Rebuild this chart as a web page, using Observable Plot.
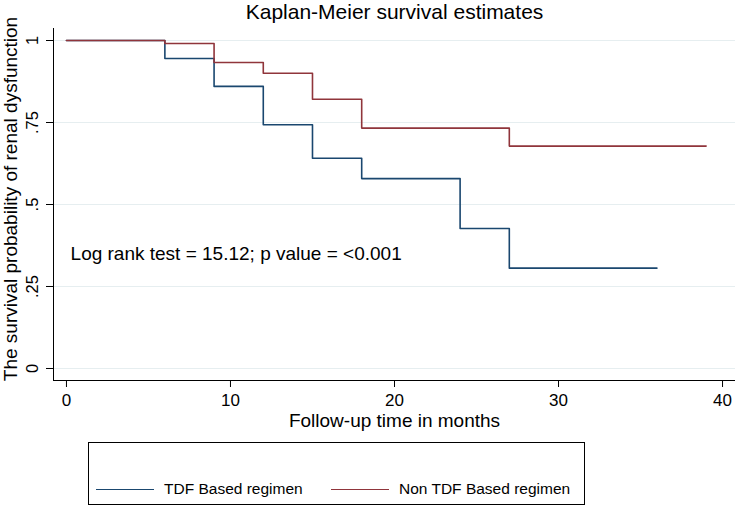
<!DOCTYPE html>
<html>
<head>
<meta charset="utf-8">
<script src="https://cdn.jsdelivr.net/npm/d3@7"></script>
<script src="https://cdn.jsdelivr.net/npm/@observablehq/plot@0.6"></script>
<style>
  html, body { margin: 0; padding: 0; background: #fff; }
  #wrap { position: relative; width: 735px; height: 505px; font-family: "Liberation Sans", Arial, sans-serif; }
  #legend { position: absolute; left: 88px; top: 442px; width: 495px; height: 61px; border: 1px solid #000; box-sizing: content-box; }
  .sw { position: absolute; height: 0; border-top: 1.6px solid; top: 46px; width: 58px; }
  .lt { position: absolute; top: 37px; font-size: 15.5px; line-height: 18px; color: #000; white-space: nowrap; }
</style>
</head>
<body>
<div id="wrap"></div>
<script>
// Data
const tdfTimes = [0, 6, 9, 12, 15, 18, 24, 27, 36];
const tdfSurv  = [1, 0.945, 0.860, 0.743, 0.641, 0.579, 0.427, 0.306, 0.306];
const nonTimes = [0, 6, 9, 12, 15, 18, 27, 39];
const nonSurv  = [1, 0.991, 0.933, 0.900, 0.821, 0.733, 0.678, 0.678];
const groups = ["TDF Based regimen", "Non TDF Based regimen"];
const colors = ["#1a476f", "#90353b"];
const xTicks = [0, 10, 20, 30, 40];
const yTicks = [0, 0.25, 0.5, 0.75, 1];
const yTickLabels = ["0", ".25", ".5", ".75", "1"];
const titleText = "Kaplan-Meier survival estimates";
const xLabel = "Follow-up time in months";
const yLabel = "The survival probability of renal dysfunction";
const note = "Log rank test = 15.12; p value = <0.001";

const rows = [
  ...tdfTimes.map((t, i) => ({time: t, surv: tdfSurv[i], group: groups[0]})),
  ...nonTimes.map((t, i) => ({time: t, surv: nonSurv[i], group: groups[1]}))
];

const xDomain = [-0.79, 40.79];
const yDomain = [-0.0366, 1.0366];
const font = "Liberation Sans, Arial, sans-serif";

const chart = Plot.plot({
  width: 735,
  height: 505,
  marginLeft: 53,
  marginRight: 0,
  marginTop: 28,
  marginBottom: 125,
  style: {fontFamily: font, fontSize: "17px", color: "#000", background: "#fff"},
  x: {domain: xDomain},
  y: {domain: yDomain},
  color: {domain: groups, range: colors},
  marks: [
    Plot.gridY(yTicks, {stroke: "#e6eef0", strokeOpacity: 1, strokeWidth: 1}),
    Plot.ruleX([xDomain[0]], {stroke: "#000", strokeWidth: 1}),
    Plot.ruleY([yDomain[0]], {stroke: "#000", strokeWidth: 1}),
    Plot.axisX({ticks: xTicks, tickSize: 7, tickPadding: 6, fontSize: 17, label: null, tickFormat: d => String(d)}),
    Plot.axisY({ticks: yTicks, tickSize: 7, tickPadding: 9, tickRotate: -90, fontSize: 16.5, label: null,
                tickFormat: d => yTickLabels[yTicks.indexOf(d)]}),
    Plot.line(rows, {x: "time", y: "surv", z: "group", stroke: "group", curve: "step-after", strokeWidth: 1.6}),
    Plot.text([note], {x: 0.25, y: 0.348, text: d => d, textAnchor: "start", lineAnchor: "middle", fontSize: 19, fill: "#000"}),
    Plot.text([titleText], {frameAnchor: "top", dy: -9.5, textAnchor: "middle", lineAnchor: "bottom", fontSize: 21, fill: "#000", text: d => d}),
    Plot.text([xLabel], {frameAnchor: "bottom", dy: 46, textAnchor: "middle", lineAnchor: "bottom", fontSize: 19, fill: "#000", text: d => d}),
    Plot.text([yLabel], {frameAnchor: "left", dx: -36.5, dy: -5.5, rotate: -90, textAnchor: "middle", lineAnchor: "bottom", fontSize: 19, fill: "#000", text: d => d})
  ]
});

const wrap = document.getElementById("wrap");
wrap.appendChild(chart);

const legend = document.createElement("div");
legend.id = "legend";
const lx = [[7, 75], [242, 310]];
groups.forEach((g, i) => {
  const sw = document.createElement("div");
  sw.className = "sw";
  sw.style.left = lx[i][0] + "px";
  sw.style.borderTopColor = colors[i];
  legend.appendChild(sw);
  const t = document.createElement("div");
  t.className = "lt";
  t.style.left = lx[i][1] + "px";
  t.textContent = g;
  legend.appendChild(t);
});
wrap.appendChild(legend);
</script>
</body>
</html>
